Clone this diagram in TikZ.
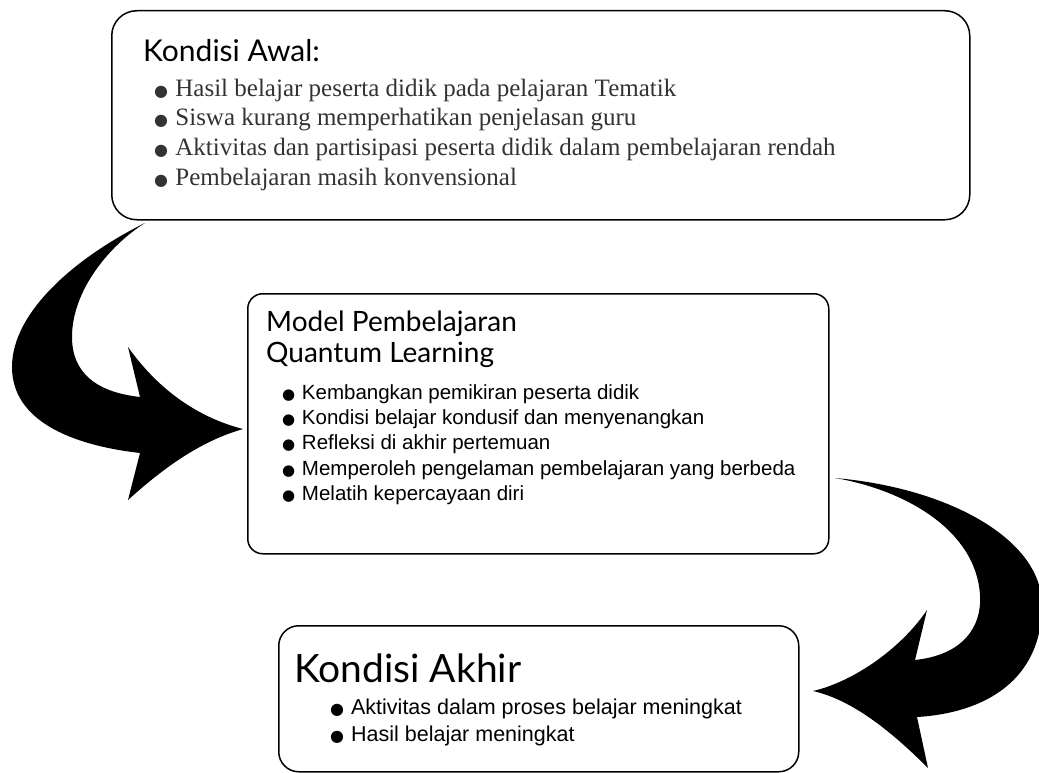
\documentclass[tikz,border=0pt]{standalone}
\usepackage{fontspec}
\setmainfont{Liberation Serif}
\setsansfont{Liberation Sans}
\newfontfamily\headfont{Lato}
\newfontfamily\symfont{DejaVu Sans}
\usetikzlibrary{positioning}
\newcommand{\blt}[1]{{\symfont\fontsize{#1}{#1}\selectfont ●}\hspace{1pt}}

\begin{document}
\begin{tikzpicture}
[x=1pt,y=-1pt,
box/.style={draw,line width=1.5pt,anchor=north west,inner sep=0pt},
head/.style={anchor=north west,inner sep=0pt,align=left},
list/.style={anchor=north west,inner sep=0pt,align=left}
]
\useasboundingbox (0,0) rectangle (1039,773);
%\draw[help lines,step=50] (0,0) grid (1039,773);

% kondisi awal
\node[box,rounded corners=25pt,minimum width=858pt,minimum height=209pt] (awal) at (111,10) {};
\node[head,font=\headfont\fontsize{30}{32}\selectfont,below right=29pt and 32pt of awal.north west] (awalhead) {Kondisi Awal:};
\node[list,font=\rmfamily\fontsize{25}{29.7}\selectfont,text=black!80,below right=17pt and 11pt of awalhead.south west] (awallist) {%
    \blt{16} Hasil belajar peserta didik pada pelajaran Tematik\\
    \blt{16} Siswa kurang memperhatikan penjelasan guru\\
    \blt{16} Aktivitas dan partisipasi peserta didik dalam pembelajaran rendah\\
    \blt{16} Pembelajaran masih konvensional};

% model quantum learning
\node[box,rounded corners=15pt,minimum width=581pt,minimum height=260pt] (model) at (247,293) {};
\node[head,font=\headfont\fontsize{28}{31}\selectfont,below right=18pt and 19pt of model.north west] (modelhead) {Model Pembelajaran\\Quantum Learning};
\node[list,font=\sffamily\fontsize{20.5}{25.3}\selectfont,below right=16pt and 16pt of modelhead.south west] (modellist) {%
    \blt{15} Kembangkan pemikiran peserta didik\\
    \blt{15} Kondisi belajar kondusif dan menyenangkan\\
    \blt{15} Refleksi di akhir pertemuan\\
    \blt{15} Memperoleh pengelaman pembelajaran yang berbeda\\
    \blt{15} Melatih kepercayaan diri};

% kondisi akhir
\node[box,rounded corners=20pt,minimum width=520pt,minimum height=146pt] (akhir) at (278,625) {};
\node[head,font=\headfont\fontsize{39}{41}\selectfont,below right=29pt and 16pt of akhir.north west] (akhirhead) {Kondisi Akhir};
\node[list,font=\sffamily\fontsize{21.5}{27.5}\selectfont,below right=15pt and 36pt of akhirhead.south west] (akhirlist) {%
    \blt{16} Aktivitas dalam proses belajar meningkat\\
    \blt{16} Hasil belajar meningkat};

% big curved arrows
\fill (145,223) .. controls (80,255) and (12,310) .. (12,367)
    .. controls (12,420) and (70,445) .. (140,453) -- (128,500)
    .. controls (170,462) and (205,440) .. (243,429)
    .. controls (200,418) and (160,392) .. (128,347) -- (140,397)
    .. controls (95,392) and (72,372) .. (72,337)
    .. controls (72,290) and (110,245) .. (145,223) -- cycle;
\fill (835,478) .. controls (950,488) and (1042,540) .. (1042,605)
    .. controls (1042,680) and (985,713) .. (917,717) -- (928,768)
    .. controls (890,730) and (852,700) .. (813,691)
    .. controls (852,682) and (900,650) .. (927,610) -- (915,660)
    .. controls (962,655) and (982,628) .. (980,595)
    .. controls (976,530) and (905,490) .. (835,478) -- cycle;
\end{tikzpicture}
\end{document}
